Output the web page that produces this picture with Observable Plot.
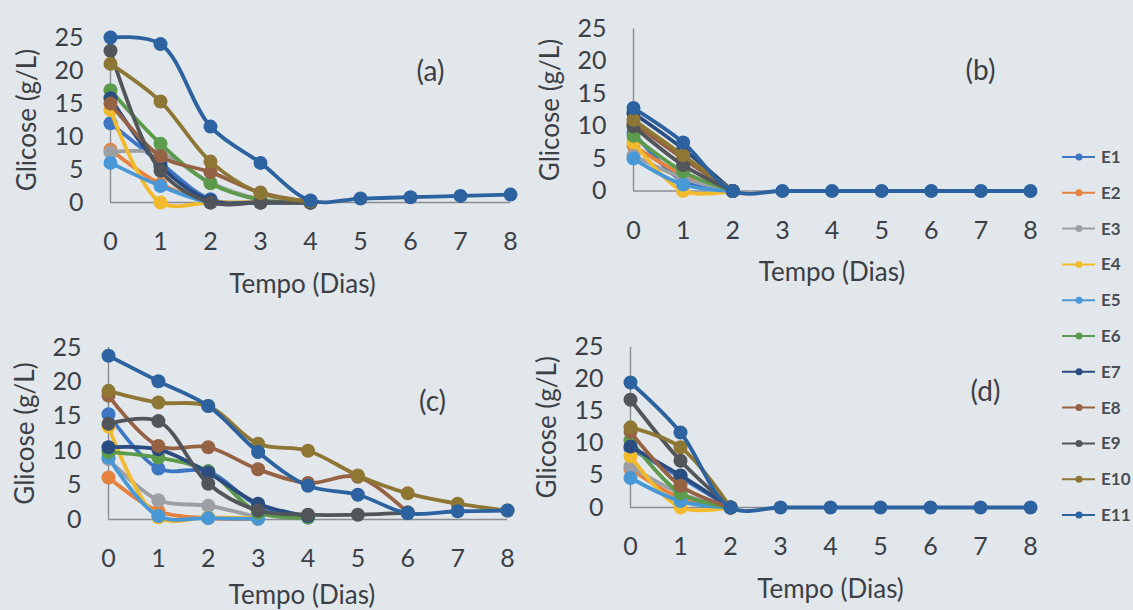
<!DOCTYPE html>
<html>
<head>
<meta charset="utf-8">
<script src="https://cdn.jsdelivr.net/npm/d3@7"></script>
<script src="https://cdn.jsdelivr.net/npm/@observablehq/plot@0.6"></script>
<style>
  html, body { margin: 0; padding: 0; background: #e2e7eb; }
  #fig { position: relative; width: 1133px; height: 610px; overflow: hidden; font-family: Lato, "Open Sans", sans-serif; }
  .panel { position: absolute; }
  .panel svg { overflow: visible; }
</style>
</head>
<body>
<div id="fig"></div>
<script>
// Fermentation time axis (days) and glucose ticks (g/L)
const days = [0, 1, 2, 3, 4, 5, 6, 7, 8];
const yTicks = [0, 5, 10, 15, 20, 25];

// Experiments and their colours
const seriesNames = ["E1", "E2", "E3", "E4", "E5", "E6", "E7", "E8", "E9", "E10", "E11"];
const seriesColors = ["#3d76c2", "#e5823f", "#9ca0a5", "#f2bb2e", "#4898d8", "#5c9a4c",
                      "#2a4c80", "#966244", "#525559", "#8e7735", "#2d62a0"];

// Glucose (g/L) per experiment, one array per experiment, day 0 onwards
const glucoseA = [
  [12, 6, 0.5, 0, 0],
  [8, 2.8, 0.2, 0, 0],
  [7.6, 7.5, 3, 0.5, 0],
  [14, 0, 0, 0, 0],
  [6, 2.5, 0, 0, 0],
  [17, 8.9, 2.9, 0.4, 0],
  [15.8, 5.5, 0.3, 0, 0],
  [15, 7, 4.6, 1.5, 0.1],
  [23, 4.8, 0, 0, 0],
  [21, 15.3, 6.2, 1.4, 0.2],
  [25, 24, 11.5, 6, 0.3, 0.6, 0.8, 1.0, 1.2]
];
const glucoseB = [
  [9, 1.5, 0],
  [7, 2.5, 0],
  [5.5, 2, 0],
  [7.5, 0, 0],
  [5, 1, 0],
  [8.5, 3, 0],
  [12, 6.5, 0],
  [10.5, 5, 0],
  [10, 4, 0],
  [11, 5.5, 0],
  [12.8, 7.5, 0, 0, 0, 0, 0, 0, 0]
];
const glucoseC = [
  [15.3, 7.4, 7, 2, 0.3],
  [6.1, 1.2, 0.2, 0.1],
  [8.8, 2.8, 2, 0.3],
  [13.5, 0.3, 0.3, 0.2],
  [9, 0.5, 0.2, 0.1],
  [9.8, 9, 7, 1, 0.3],
  [10.5, 10.2, 6.8, 2.3, 0.5],
  [18, 10.7, 10.5, 7.3, 5.3, 6.2, 1.0],
  [13.9, 14.3, 5.2, 1.3, 0.7, 0.7, 1.0],
  [18.7, 17, 16.5, 11, 10, 6.4, 3.8, 2.3, 1.3],
  [23.8, 20.1, 16.5, 9.8, 4.9, 3.6, 0.9, 1.2, 1.3]
];
const glucoseD = [
  [9.2, 4.7, 0],
  [6, 1.5, 0],
  [6.4, 2.2, 0],
  [8, 0, 0],
  [4.6, 1, 0],
  [10.5, 2.2, 0],
  [9.5, 5, 0],
  [11.8, 3.4, 0],
  [16.8, 7.3, 0],
  [12.5, 9.4, 0],
  [19.5, 11.7, 0, 0, 0, 0, 0, 0, 0]
];

const panelLabels = ["(a)", "(b)", "(c)", "(d)"];
const xTitle = "Tempo (Dias)";
const yTitle = "Glicose (g/L)";

const textColor = "#3b4046";
const axisColor = "#8a8d91";

function toRows(values) {
  return values.flatMap((vals, i) =>
    vals.map((v, d) => ({series: seriesNames[i], day: days[d], glucose: v})));
}

// One small-multiple panel: Excel-like smoothed lines with markers
function panel(values, label, box) {
  const data = toRows(values);
  const marks = [
    Plot.ruleX([days[0]], {y1: yTicks[0], y2: yTicks[yTicks.length - 1], stroke: axisColor, strokeWidth: 1.4}),
    Plot.ruleY([yTicks[0]], {x1: days[0], x2: days[days.length - 1], stroke: axisColor, strokeWidth: 1.4})
  ];
  for (const name of seriesNames) {
    const s = data.filter(d => d.series === name);
    marks.push(Plot.line(s, {x: "day", y: "glucose", stroke: "series", strokeWidth: 3.8, curve: "catmull-rom"}));
    marks.push(Plot.dot(s, {x: "day", y: "glucose", fill: "series", r: 7}));
  }
  marks.push(Plot.text([label], {text: d => d, frameAnchor: "top-right", textAnchor: "middle", lineAnchor: "middle",
    dx: box.labelDx, dy: box.labelDy, fontSize: 28, fill: textColor}));
  marks.push(Plot.text([yTitle], {text: d => d, frameAnchor: "left", textAnchor: "middle", lineAnchor: "middle",
    rotate: -90, dx: -83, fontSize: 26, fill: textColor}));
  marks.push(Plot.text([xTitle], {text: d => d, frameAnchor: "bottom", textAnchor: "middle", lineAnchor: "middle",
    dx: box.titleDx, dy: box.titleDy, fontSize: 26, fill: textColor}));

  const chart = Plot.plot({
    width: box.width,
    height: box.height,
    marginLeft: box.ml,
    marginRight: box.mr,
    marginTop: box.mt,
    marginBottom: box.mb,
    style: {background: "transparent", fontFamily: "Lato, 'Open Sans', sans-serif", fontSize: "25px", color: textColor},
    x: {domain: [days[0], days[days.length - 1]], ticks: days, tickSize: 0, tickPadding: 30, label: null, tickFormat: d => d},
    y: {domain: [yTicks[0], yTicks[yTicks.length - 1]], ticks: yTicks, tickSize: 0, tickPadding: 27, label: null, tickFormat: d => d},
    color: {domain: seriesNames, range: seriesColors},
    marks
  });
  const wrap = document.createElement("div");
  wrap.className = "panel";
  wrap.style.left = box.left + "px";
  wrap.style.top = box.top + "px";
  wrap.appendChild(chart);
  return wrap;
}

const fig = document.getElementById("fig");
fig.appendChild(panel(glucoseA, panelLabels[0], {left: 0, top: 0, width: 560, height: 300, ml: 110, mr: 50, mt: 37, mb: 98,
  labelDx: -80, labelDy: 35, titleDx: -8, titleDy: 82}));
fig.appendChild(panel(glucoseB, panelLabels[1], {left: 520, top: 0, width: 540, height: 300, ml: 113, mr: 30, mt: 28.5, mb: 109.5,
  labelDx: -50, labelDy: 42, titleDx: 0, titleDy: 82}));
fig.appendChild(panel(glucoseC, panelLabels[2], {left: 0, top: 300, width: 560, height: 310, ml: 108, mr: 53, mt: 47, mb: 91,
  labelDx: -75, labelDy: 55, titleDx: -6, titleDy: 76}));
fig.appendChild(panel(glucoseD, panelLabels[3], {left: 520, top: 300, width: 540, height: 310, ml: 110, mr: 30, mt: 46.7, mb: 103,
  labelDx: -45, labelDy: 45, titleDx: 0, titleDy: 82}));

// Legend: line-with-marker swatches, one row per experiment
const legend = d3.select(fig).append("svg")
  .attr("width", 80).attr("height", 400)
  .style("position", "absolute").style("left", "1058px").style("top", "135px");
const rowGap = 35.8;
const row = legend.selectAll("g").data(seriesNames).join("g")
  .attr("transform", (d, i) => `translate(0,${22 + i * rowGap})`);
row.append("line").attr("x1", 4).attr("x2", 37).attr("y1", 0).attr("y2", 0)
  .attr("stroke", (d, i) => seriesColors[i]).attr("stroke-width", 2);
row.append("circle").attr("cx", 21).attr("cy", 0).attr("r", 3.5)
  .attr("fill", (d, i) => seriesColors[i]);
row.append("text").attr("x", 43).attr("y", 0).attr("dy", "0.35em")
  .attr("font-family", "Lato, 'Open Sans', sans-serif").attr("font-size", 17).attr("font-weight", 700)
  .attr("fill", "#4a4f55").text(d => d);
</script>
</body>
</html>
